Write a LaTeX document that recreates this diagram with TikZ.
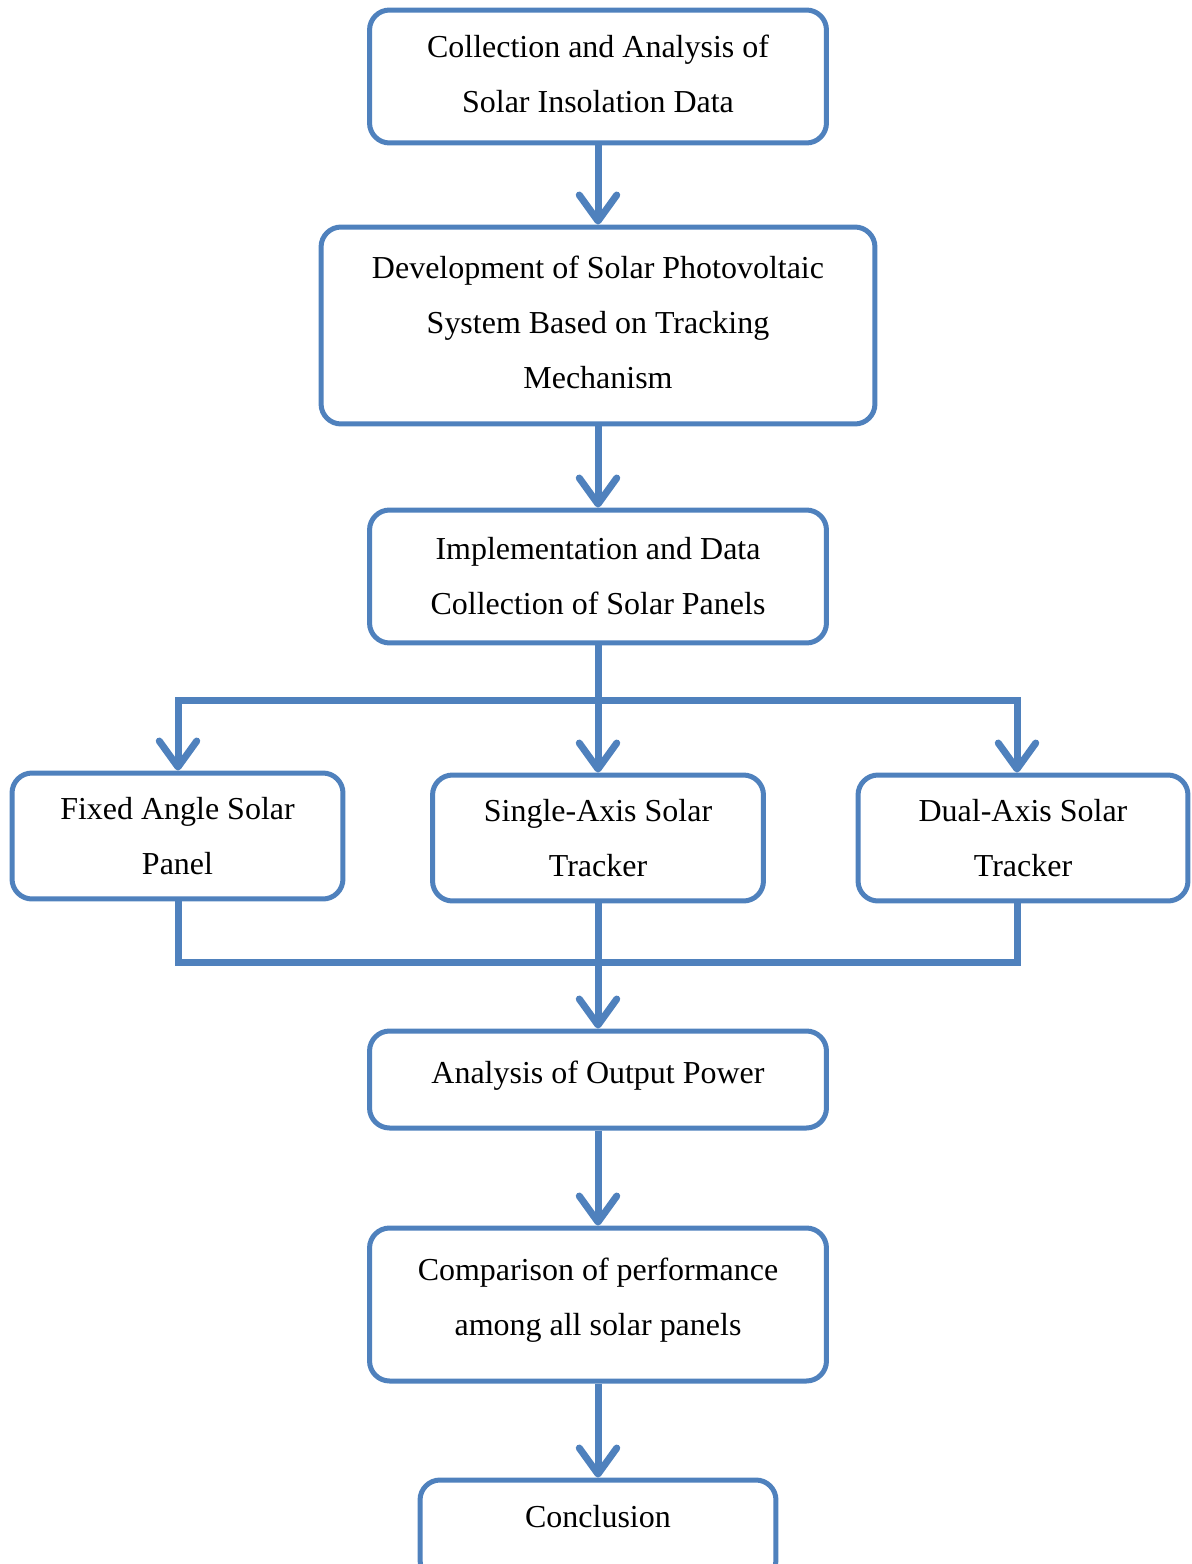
\documentclass[tikz,border=0pt]{standalone}
\usepackage{fontspec}
\setmainfont{Liberation Serif}
\usepackage{tikz}
\usetikzlibrary{arrows.meta}
\definecolor{flowblue}{HTML}{4F81BD}

\begin{document}
\begin{tikzpicture}[x=0.02cm, y=-0.02cm,
  box/.style={rectangle, rounded corners=0.4cm, draw=flowblue, line width=0.1cm, fill=white, align=center, inner sep=0pt, font=\fontsize{18.2pt}{31.3pt}\selectfont},
  widebox/.style={box, minimum width=9.14cm},
  smallbox/.style={box, minimum width=6.62cm, minimum height=2.52cm},
  flow/.style={draw=flowblue, line width=0.14cm, line cap=rect},
  arrow/.style={draw=flowblue, line width=0.14cm, -{Straight Barb[length=0.52cm, width=0.75cm, round]}}
]
  \useasboundingbox (0,0) rectangle (1191,1564);

  \node[widebox, minimum height=2.66cm, text depth=0.1cm] (collect) at (598,76.5) {Collection and Analysis of\\Solar Insolation Data};
  \node[box, minimum width=11.08cm, minimum height=3.94cm, text depth=0.12cm] (develop) at (598,325.5) {Development of Solar Photovoltaic\\System Based on Tracking\\Mechanism};
  \node[widebox, minimum height=2.66cm] (implement) at (598,576.5) {Implementation and Data\\Collection of Solar Panels};

  \node[smallbox] (fixed) at (177.5,836) {Fixed Angle Solar\\Panel};
  \node[smallbox] (single) at (598,838) {Single-Axis Solar\\Tracker};
  \node[smallbox, minimum width=6.6cm] (dual) at (1023,838) {Dual-Axis Solar\\Tracker};

  \node[widebox, minimum height=1.94cm, text depth=0.3cm] (analysis) at (598,1079.5) {Analysis of Output Power};
  \node[widebox, minimum height=3.06cm, text depth=0.32cm] (compare) at (598,1304.5) {Comparison of performance\\among all solar panels};
  \node[box, minimum width=7.12cm, minimum height=2cm, text depth=0.56cm] (concl) at (598,1530) {Conclusion};

  \coordinate (splitL) at (178,700);
  \coordinate (splitC) at (598,700);
  \coordinate (splitR) at (1017,700);
  \coordinate (joinL) at (178,962);
  \coordinate (joinC) at (598,962);
  \coordinate (joinR) at (1017,962);

  \draw[arrow] (collect) -- (develop);
  \draw[arrow] (develop) -- (implement);

  \draw[flow] (implement) -- (splitC);
  \draw[flow] (splitL) -- (splitR);
  \draw[arrow] (splitL) -- (splitL |- fixed.north);
  \draw[arrow] (splitC) -- (single);
  \draw[arrow] (splitR) -- (splitR |- dual.north);

  \draw[flow] (fixed.south -| joinL) -- (joinL) -- (joinR) -- (dual.south -| joinR);
  \draw[flow] (single) -- (joinC);
  \draw[arrow] (joinC) -- (analysis);

  \draw[arrow] (analysis) -- (compare);
  \draw[arrow] (compare) -- (concl);
\end{tikzpicture}
\end{document}
